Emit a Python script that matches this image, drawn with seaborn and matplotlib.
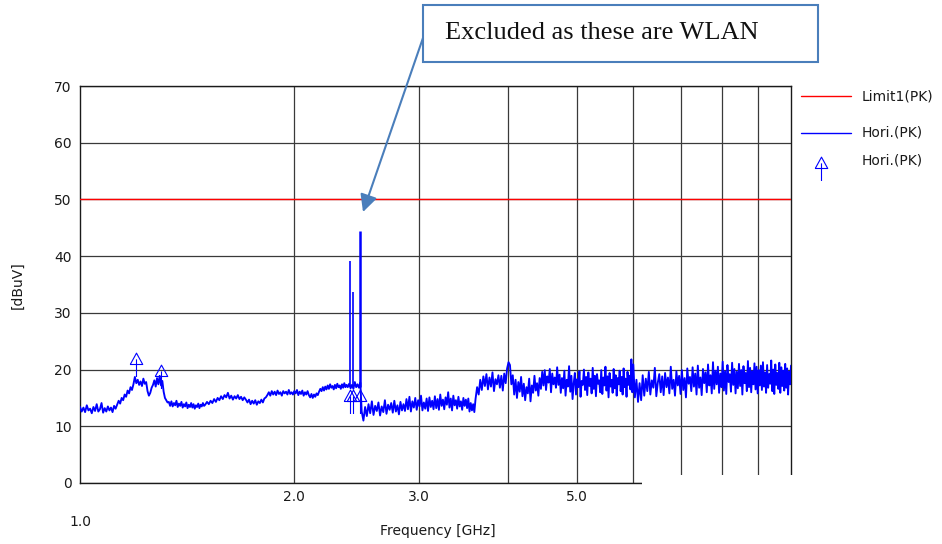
import numpy as np
import pandas as pd
import matplotlib
matplotlib.use("Agg")
import matplotlib.pyplot as plt
import seaborn as sns
from matplotlib.path import Path
from matplotlib.patches import Rectangle
from matplotlib.lines import Line2D
from matplotlib.ticker import FixedLocator, FixedFormatter, NullFormatter

# ---------------- data ----------------
SEG1_RANGE = (1.00, 1.50)
SEG1 = [13.4, 12.6, 13.3, 12.5, 13.7, 12.8, 13.1, 12.3, 13.4, 12.7, 13.9, 12.6, 13.0, 14.1, 12.4, 13.2,
        12.6, 13.5, 12.8, 13.3, 12.5, 13.6, 13.1,
        13.8, 14.5, 14.0, 15.0, 14.6, 15.6, 15.2, 16.3, 15.8, 16.9, 16.4, 17.4,
        18.7,
        17.6, 18.2, 17.3, 17.9, 17.1, 18.4, 17.5, 17.8,
        16.2, 15.4, 15.9, 16.8,
        17.3, 18.1, 17.0, 18.5, 17.4, 18.9, 17.2, 18.0,
        16.1, 15.0, 14.6, 14.2,
        14.3, 13.6, 14.4, 13.5, 14.1, 13.7, 14.5, 13.4, 14.0, 13.6, 14.3, 13.3, 13.9, 13.5, 14.2,
        13.2, 13.8, 13.4, 14.1, 13.3, 13.9, 13.1, 13.7, 13.4, 14.0, 13.2, 13.8, 13.5, 14.1, 13.6]

SEG2_RANGE = (1.50, 2.38)
SEG2 = [13.8, 14.3, 13.9, 14.5, 14.1, 14.8, 14.3, 15.0, 14.6, 15.3, 14.8, 15.5, 15.1, 15.9,
        14.9, 15.4, 14.7, 15.3, 14.9, 15.5, 14.8, 15.2, 14.6, 15.1, 14.7,
        14.2, 14.7, 13.9, 14.5, 14.0, 14.6, 13.8, 14.4, 14.1, 14.7, 14.2, 14.9, 15.1,
        15.5, 16.0, 15.4, 16.2, 15.6, 16.1, 15.5, 16.3, 15.7, 16.0, 15.4, 16.2, 15.8, 16.1, 15.6, 16.4,
        15.7, 16.0,
        15.6, 16.2, 15.8, 16.4, 15.5, 16.1, 15.7, 16.3, 15.4, 16.0, 15.6, 16.2, 15.5,
        15.1, 15.7, 15.0, 15.6, 15.2, 15.8, 15.5,
        16.1, 16.6, 16.2, 16.9, 16.3, 17.0, 16.5, 17.2, 16.6, 17.4, 16.8, 17.1, 16.5, 17.3, 16.7, 17.5,
        16.9, 17.2, 16.6, 17.4, 16.8, 17.6, 16.9, 17.3]

SEG2B_RANGE = (2.38, 2.49)
SEG2B = [16.9, 17.5, 16.7, 17.3, 16.6, 17.8, 16.9, 17.4, 16.8, 17.7]

SEG3_RANGE = (2.49, 3.60)
SEG3 = [12.6, 11.0, 13.4, 11.8,
        13.9, 12.3, 14.4, 12.0, 13.6, 12.7, 14.2, 11.9, 13.5, 12.5, 14.6, 12.2, 13.8, 12.9, 14.1, 12.4,
        14.5, 12.6, 13.7, 12.1, 14.3, 12.8, 13.9,
        12.7, 14.8, 13.0, 15.2, 12.6, 14.4, 13.3, 15.0, 12.9, 14.6, 13.5, 15.4, 12.8, 14.2, 13.1, 14.9,
        12.7, 15.1, 13.4, 14.5, 13.0,
        15.3, 13.2, 14.8, 12.9, 15.6, 13.6, 14.7, 13.0, 15.1, 13.8, 16.0, 13.3, 14.9, 12.8, 15.4, 13.7,
        14.6, 13.1, 15.2, 13.5, 14.4, 12.9, 15.0, 13.6, 14.7, 13.2, 14.9,
        12.6, 14.1, 12.8, 13.9, 12.5]

SEG4_RANGE = (3.60, 6.00)
SEG4 = [14.8, 16.9, 15.6, 18.2, 16.4, 18.8, 17.1,
        19.2, 16.5, 18.6, 17.0, 19.5, 16.2, 18.3, 17.4, 19.0, 16.8, 18.9, 16.3, 19.3,
        17.6, 20.2, 21.3, 20.8,
        17.4, 19.0, 15.6, 18.2, 15.0, 17.8, 16.1, 18.7, 15.3, 17.5, 14.6, 16.9, 15.8, 18.4, 14.4, 17.2,
        15.9, 18.9, 16.3, 17.6, 15.4, 18.5,
        16.6, 19.6, 17.2, 19.9, 16.4, 18.8, 17.7, 20.1, 16.0, 19.3, 17.4, 18.6, 16.8, 20.4, 17.3,
        19.1, 15.9, 18.5, 16.7, 19.8, 15.4, 18.2, 17.0, 20.6, 16.1, 18.9, 14.8, 17.6, 19.4, 15.6, 18.3,
        16.9, 19.7, 15.2, 18.0, 17.3, 20.0, 16.4, 18.7, 15.5, 19.5, 17.1, 18.4, 15.8, 20.3, 16.6, 18.9,
        15.3, 19.2, 17.5, 18.1, 16.0, 19.9, 15.7, 18.6, 17.2, 20.5, 16.3, 18.8, 15.1, 19.4, 17.0, 18.2,
        15.9, 20.1, 16.7, 19.0, 15.4, 18.5, 17.4, 19.8, 16.2, 18.7, 15.6, 20.2, 16.9, 18.4, 15.2, 19.6,
        17.3, 18.9, 16.5, 21.8, 16.0]

SEG5_RANGE = (6.00, 10.00)
SEG5 = [20.9, 15.1, 18.2, 14.3, 17.6, 14.6, 19.0, 15.4, 18.4, 16.2,
        19.6, 15.6, 18.1, 16.8, 20.3, 15.3, 17.7, 19.2, 16.0, 18.8,
        15.5, 19.4, 16.9, 18.6, 15.8, 20.5, 16.6, 18.2, 15.4, 19.7,
        17.2, 18.9, 15.7, 19.9, 16.4, 18.5, 15.1, 20.2, 17.5, 18.7,
        16.2, 20.4, 17.0, 19.3, 15.6, 20.7, 16.8, 18.6, 15.5, 20.1,
        17.6, 19.5, 16.0, 20.9, 17.2, 19.0, 15.8, 21.3, 16.6, 19.8,
        17.4, 20.5, 15.9, 19.3, 16.9, 21.4, 16.3, 19.7, 15.7, 20.8,
        17.8, 19.2, 16.1, 21.2, 17.3, 20.1, 15.8, 19.6, 16.7, 21.0,
        17.1, 19.9, 15.6, 20.6, 17.6, 19.4, 16.2, 21.5, 16.9, 20.3,
        16.0, 19.7, 17.4, 21.1, 16.5, 20.5, 15.8, 19.9, 17.2, 20.7,
        16.4, 21.3, 17.0, 19.5, 15.9, 20.8, 16.8, 19.2, 17.5, 21.6,
        16.2, 20.0, 15.7, 20.9, 17.3, 19.4, 16.6, 21.2, 15.9, 20.4,
        17.1, 19.8, 16.3, 21.0, 16.8, 20.2, 15.6, 19.6, 17.4, 20.7]

WLAN_FREQS = [2.398, 2.421, 2.476]
WLAN_PEAKS = [39.2, 33.7, 44.4]
WLAN_FLOOR = [17.0, 17.0, 17.0]

PEAK_FREQS = [1.198, 1.299, 2.398, 2.421, 2.476]
PEAK_LEVELS = [21.0, 18.9, 14.4, 14.4, 14.4]

LIMIT_FREQS = [1.0, 10.0]
LIMIT_LEVELS = [50.0, 50.0]

Y_TICKS = [0, 10, 20, 30, 40, 50, 60, 70]
X_MAJOR = [2.0, 3.0, 5.0]
X_MAJOR_LABELS = ["2.0", "3.0", "5.0"]
X_MINOR = [4.0, 6.0, 7.0, 8.0, 9.0]

# ---------------- build table ----------------
segments = [(SEG1_RANGE, SEG1), (SEG2_RANGE, SEG2), (SEG2B_RANGE, SEG2B),
            (SEG3_RANGE, SEG3), (SEG4_RANGE, SEG4), (SEG5_RANGE, SEG5)]
freqs, levels = [], []
for k, (rng, vals) in enumerate(segments):
    last = k == len(segments) - 1
    f = np.linspace(rng[0], rng[1], len(vals), endpoint=last)
    freqs.extend(f)
    levels.extend(vals)
trace = pd.DataFrame({"freq": freqs, "level": levels})
limit = pd.DataFrame({"freq": LIMIT_FREQS, "level": LIMIT_LEVELS})

# ---------------- figure ----------------
sns.set_style("white")
plt.rcParams["font.family"] = ["DejaVu Sans"]
W, H = 942, 544
fig = plt.figure(figsize=(W / 100, H / 100), dpi=100)
fx = lambda px: px / W
fy = lambda py: 1 - py / H

ax = fig.add_axes([fx(80), fy(483), (791 - 80) / W, (483 - 86) / H])
ax.set_xscale("log")
ax.set_xlim(1.0, 10.0)
ax.set_ylim(0, 70)

BLUE = "#0000ff"
sns.lineplot(data=limit, x="freq", y="level", ax=ax, color="#ff0000", linewidth=1.0, zorder=3)
sns.lineplot(data=trace, x="freq", y="level", ax=ax, color=BLUE, linewidth=1.35,
             estimator=None, sort=False, zorder=4)
ax.vlines(WLAN_FREQS, WLAN_FLOOR, WLAN_PEAKS, colors=BLUE, linewidth=[1.2, 1.2, 1.8], zorder=4)

# peak marker glyph: hollow triangle with stem
verts = [(-0.55, 0), (0, 1), (0.55, 0), (-0.55, 0), (0, 0.45), (0, -1.1)]
codes = [Path.MOVETO, Path.LINETO, Path.LINETO, Path.LINETO, Path.MOVETO, Path.LINETO]
peak_marker = Path(verts, codes)
ax.plot(PEAK_FREQS, PEAK_LEVELS, linestyle="none", marker=peak_marker, markersize=18,
        markerfacecolor="none", markeredgecolor=BLUE, markeredgewidth=0.8, zorder=5)

# axes styling
ax.yaxis.set_major_locator(FixedLocator(Y_TICKS))
ax.xaxis.set_major_locator(FixedLocator(X_MAJOR))
ax.xaxis.set_major_formatter(FixedFormatter(X_MAJOR_LABELS))
ax.xaxis.set_minor_locator(FixedLocator(X_MINOR))
ax.xaxis.set_minor_formatter(NullFormatter())
ax.tick_params(axis="both", which="both", length=0, labelsize=10, colors="#1a1a1a")
ax.tick_params(axis="y", pad=6)
ax.tick_params(axis="x", pad=5)
ax.grid(True, which="both", color="#3a3a3a", linewidth=0.9)
for s in ax.spines.values():
    s.set_color("#1a1a1a")
    s.set_linewidth(1.0)
ax.set_xlabel("")
ax.set_ylabel("")

# lone 1.0 label drawn lower than the others
fig.text(fx(80), fy(522), "1.0", ha="center", va="center", fontsize=10, color="#1a1a1a")
fig.text(fx(438), fy(531), "Frequency [GHz]", ha="center", va="center", fontsize=10, color="#1a1a1a")
fig.text(fx(18), fy(285), "[dBuV]", ha="center", va="center", rotation=90, fontsize=10, color="#1a1a1a")

# white patch that clips the lower-right corner of the frame
fig.add_artist(Rectangle((fx(641.5), fy(490)), fx(800) - fx(641.5), (490 - 474.5) / H,
                         transform=fig.transFigure, facecolor="white", edgecolor="none", zorder=10))

# legend (manual)
fig.add_artist(Line2D([fx(801), fx(851)], [fy(96), fy(96)], color="#ff0000", linewidth=1.0,
                      transform=fig.transFigure))
fig.text(fx(862), fy(96), "Limit1(PK)", va="center", ha="left", fontsize=10, color="#1a1a1a")
fig.add_artist(Line2D([fx(801), fx(851)], [fy(133), fy(133)], color=BLUE, linewidth=1.0,
                      transform=fig.transFigure))
fig.text(fx(862), fy(133), "Hori.(PK)", va="center", ha="left", fontsize=10, color="#1a1a1a")
fig.add_artist(Line2D([fx(821)], [fy(168)], linestyle="none", marker=peak_marker, markersize=18,
                      markerfacecolor="none", markeredgecolor=BLUE, markeredgewidth=0.8,
                      transform=fig.transFigure))
fig.text(fx(862), fy(160), "Hori.(PK)", va="center", ha="left", fontsize=10, color="#1a1a1a")

# callout box and arrow
STEEL = "#4a7ebb"
fig.add_artist(Rectangle((fx(423), fy(62)), fx(818) - fx(423), (62 - 5) / H,
                         transform=fig.transFigure, facecolor="white", edgecolor=STEEL,
                         linewidth=1.5, zorder=11))
fig.text(fx(445), fy(39), "Excluded as these are WLAN", ha="left", va="baseline",
         fontsize=19, family=["Liberation Serif"], color="#111111", zorder=12)
ax.annotate("", xy=(363, H - 212), xycoords="figure pixels",
            xytext=(424, H - 35), textcoords="figure pixels",
            arrowprops=dict(arrowstyle="-|>", color=STEEL, linewidth=1.5, mutation_scale=26,
                            shrinkA=0, shrinkB=0),
            annotation_clip=False, zorder=12)

fig.savefig("out.png", dpi=100, facecolor="white")
